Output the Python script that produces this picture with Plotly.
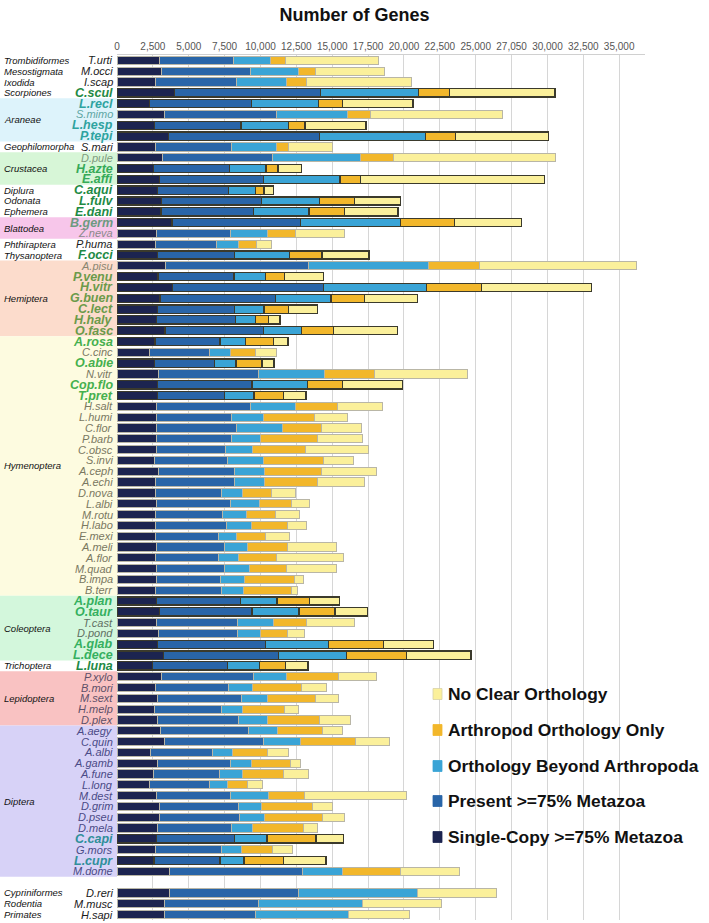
import plotly.graph_objects as go

title_text = "Number of Genes"

species = ["T.urti", "M.occi", "I.scap", "C.scul", "L.recl", "S.mimo", "L.hesp", "P.tepi", "S.mari", "D.pule",
           "H.azte", "E.affi", "C.aqui", "L.fulv", "E.dani", "B.germ", "Z.neva", "P.huma", "F.occi", "A.pisu",
           "P.venu", "H.vitr", "G.buen", "C.lect", "H.haly", "O.fasc", "A.rosa", "C.cinc", "O.abie", "N.vitr",
           "Cop.flo", "T.pret", "H.salt", "L.humi", "C.flor", "P.barb", "C.obsc", "S.invi", "A.ceph", "A.echi",
           "D.nova", "L.albi", "M.rotu", "H.labo", "E.mexi", "A.meli", "A.flor", "M.quad", "B.impa", "B.terr",
           "A.plan", "O.taur", "T.cast", "D.pond", "A.glab", "L.dece", "L.luna", "P.xylo", "B.mori", "M.sext",
           "H.melp", "D.plex", "A.aegy", "C.quin", "A.albi", "A.gamb", "A.fune", "L.long", "M.dest", "D.grim",
           "D.pseu", "D.mela", "C.capi", "G.mors", "L.cupr", "M.dome", "D.reri", "M.musc", "H.sapi"]

bold_species = ["C.scul", "L.recl", "L.hesp", "P.tepi", "H.azte", "E.affi", "C.aqui", "L.fulv", "E.dani",
                "B.germ", "F.occi", "P.venu", "H.vitr", "G.buen", "C.lect", "H.haly", "O.fasc", "A.rosa",
                "O.abie", "Cop.flo", "T.pret", "A.plan", "O.taur", "A.glab", "L.dece", "L.luna", "C.capi", "L.cupr"]

group_names = ["Trombidiformes", "Mesostigmata", "Ixodida", "Scorpiones", "Araneae", "Geophilomorpha",
               "Crustacea", "Diplura", "Odonata", "Ephemera", "Blattodea", "Phthiraptera", "Thysanoptera",
               "Hemiptera", "Hymenoptera", "Coleoptera", "Trichoptera", "Lepidoptera", "Diptera",
               "Cypriniformes", "Rodentia", "Primates"]
group_sizes = [1, 1, 1, 1, 4, 1, 3, 1, 1, 1, 2, 1, 1, 7, 24, 6, 1, 5, 14, 1, 1, 1]

single_copy = [2970, 3070, 2680, 4020, 2260, 3310, 2630, 3600, 2680, 3180,
               2520, 2940, 2840, 3120, 3070, 3830, 2760, 2680, 2840, 3390,
               2860, 3890, 2990, 2840, 2730, 3340, 2650, 2260, 2630, 2890,
               2840, 2810, 2760, 2760, 2780, 2780, 2760, 2630, 2860, 2700,
               2680, 2760, 2650, 2680, 2680, 2760, 2650, 2730, 2730, 2680,
               2760, 2940, 2730, 2890, 2840, 3230, 2470, 3100, 2650, 2840,
               2630, 2840, 3050, 3310, 2360, 2810, 2550, 2280, 2730, 2970,
               2970, 2840, 2760, 2680, 2570, 3680, 3650, 3340, 3280]
present75 = [5120, 6200, 5670, 10160, 7090, 7800, 6010, 10500, 5300, 7670,
             5300, 7250, 4940, 6960, 6430, 8950, 5150, 4230, 5330, 9950,
             5300, 10500, 8040, 5360, 5510, 6850, 4520, 4200, 4150, 6990,
             6570, 4670, 6570, 5230, 5570, 5170, 4780, 5090, 5330, 5490,
             4620, 5170, 4700, 4960, 4390, 4730, 4410, 4750, 4490, 4620,
             5830, 6460, 5700, 5510, 7510, 8010, 5250, 6430, 5120, 5860,
             4670, 5650, 6120, 6910, 4310, 5120, 4600, 4180, 5200, 5510,
             5570, 5120, 5410, 4620, 4600, 9270, 9010, 6540, 6380]
beyond_arthropoda = [2600, 3390, 3470, 6830, 4670, 4960, 3310, 7380, 3150, 6140,
                     2570, 5360, 1860, 4020, 3890, 6960, 2570, 1550, 3830, 8400,
                     2180, 7170, 3890, 2050, 1390, 2650, 1810, 1440, 1520, 4570,
                     3860, 2070, 3100, 2230, 3180, 2070, 1920, 2490, 2070, 2100,
                     1440, 1970, 1650, 1730, 1290, 1630, 1440, 1730, 1650, 1520,
                     2570, 3280, 2470, 1580, 4390, 4750, 2210, 2280, 1650, 1790,
                     1470, 2020, 2020, 2600, 1370, 1470, 1600, 1260, 2650, 1580,
                     1730, 1500, 2280, 1370, 1680, 2780, 8300, 7220, 6460]
arthropod_only = [1050, 1160, 1390, 2180, 1680, 1600, 1160, 2130, 810, 2280,
                  840, 1420, 600, 2440, 2490, 3760, 1940, 1260, 2280, 3520,
                  1310, 3860, 2340, 1710, 920, 2230, 1920, 1730, 1810, 3490,
                  2440, 2050, 2910, 3550, 2730, 3940, 3680, 4150, 3970, 3680,
                  2000, 2230, 2020, 2490, 1970, 2760, 2650, 2630, 3490, 3340,
                  2280, 2520, 2310, 1890, 3830, 4200, 1790, 3620, 3410, 3310,
                  2890, 3600, 3120, 3810, 2440, 2680, 2840, 1370, 2470, 3550,
                  4040, 3550, 3410, 2150, 2730, 4040, None, None, None]
no_clear = [6490, 4830, 7300, 7330, 4940, 9190, 4250, 6460, 3050, 11320,
            1650, 12840, 660, 3230, 3700, 4670, 3440, 1050, 3280, 10950,
            2760, 7640, 3700, 2000, 810, 4460, 1020, 1520, 840, 6460,
            4180, 1580, 3180, 2310, 2760, 3120, 4410, 2130, 3830, 3280,
            1680, 1310, 1730, 1370, 1680, 3410, 4650, 3490, 660, 450,
            2050, 2280, 3310, 1180, 3470, 4490, 1600, 2630, 1760, 1650,
            1000, 2130, 1440, 2340, 1440, 710, 1730, 1020, 7120, 1390,
            1550, 950, 1940, 1440, 2990, 4120, 5490, 5510, 4250]

series_names = ["Single-Copy >=75% Metazoa", "Present >=75% Metazoa", "Orthology Beyond Arthropoda",
                "Arthropod Orthology Only", "No Clear Orthology"]

tick_values = [0, 2500, 5000, 7500, 10000, 12500, 15000, 17500, 20000, 22500, 25000, 27500, 30000, 32500, 35000]
tick_labels = ["0", "2,500", "5,000", "7,500", "10,000", "12,500", "15,000", "17,500", "20,000", "22,500",
               "25,000", "27,050", "30,000", "32,500", "35,000"]

# ---------------- styling ----------------
series_colors = ["#1c2450", "#2965a8", "#3aa4d6", "#f2b72b", "#fbf09b"]
band_colors = {"Araneae": "#ddf3fb", "Crustacea": "#d7f6d7", "Blattodea": "#f7c6ea", "Hemiptera": "#fcdccc",
               "Hymenoptera": "#fdfbe0", "Coleoptera": "#d3f7dc", "Lepidoptera": "#f9c2c2", "Diptera": "#d7d2f7"}
label_colors = {"Araneae": ("#5ea6a4", "#2ea3a0"), "Crustacea": ("#7d9a7d", "#36aa58"),
                "Blattodea": ("#8a8a8a", "#6d9a80"), "Hemiptera": ("#8a8670", "#6b9a4a"),
                "Hymenoptera": ("#7a7860", "#46b04e"), "Coleoptera": ("#5f6e62", "#35b060"),
                "Lepidoptera": ("#5e5068", "#5e5068"), "Diptera": ("#4a4a86", "#2f8f9a")}
default_label = ("#1a1a1a", "#1e8a45")

label_font = "Liberation Sans, Arial, Helvetica, sans-serif"

# row positions: one empty row between the insects and the vertebrates
n_arthropod_rows = sum(group_sizes[:-3])
ypos = [i if i < n_arthropod_rows else i + 1 for i in range(len(species))]
n_rows = len(species) + 1

group_of = []
for g, n in zip(group_names, group_sizes):
    group_of += [g] * n

is_bold = [sp in bold_species for sp in species]
line_cols = ["#3b3a2c" if b else "#b9b6a6" for b in is_bold]
line_wids = [1.3 if b else 1.0 for b in is_bold]

fig = go.Figure()
for name, vals, col in zip(series_names, [single_copy, present75, beyond_arthropoda, arthropod_only, no_clear],
                           series_colors):
    fig.add_trace(go.Bar(
        y=ypos, x=vals, orientation="h", name=name, showlegend=False,
        marker=dict(color=col, line=dict(color=line_cols, width=line_wids)),
        hovertemplate="%{x}<extra>" + name + "</extra>",
    ))

# plot geometry
W, H = 709, 923
ml, mr, mt, mb = 117, 64, 55, 3
pw = W - ml - mr
ph = H - mt - mb


def px_x(x):
    return (x - ml) / pw


def px_y(y):
    return 1 - (y - mt) / ph


shapes = []
annotations = []
start = 0
for g, n in zip(group_names, group_sizes):
    y0 = ypos[start] - 0.5
    y1 = ypos[start + n - 1] + 0.5
    if g in band_colors:
        shapes.append(dict(type="rect", xref="paper", yref="y", x0=px_x(-2), x1=0,
                           y0=y0, y1=y1, fillcolor=band_colors[g], line=dict(width=0), layer="below"))
    annotations.append(dict(xref="paper", yref="y", x=px_x(2), y=(y0 + y1) / 2, xanchor="left",
                            yanchor="middle", text="<i>" + g + "</i>", showarrow=False,
                            font=dict(family=label_font, size=9.5, color="#111111")))
    start += n

for sp, y, g, b in zip(species, ypos, group_of, is_bold):
    reg, bol = label_colors.get(g, default_label)
    if b:
        txt = "<b><i>" + sp + "</i></b>"
        fnt = dict(family=label_font, size=12.5, color=bol)
    else:
        txt = "<i>" + sp + "</i>"
        fnt = dict(family=label_font, size=11, color=reg)
    annotations.append(dict(xref="paper", yref="y", x=px_x(114.5), y=y, xanchor="right", yanchor="middle",
                            text=txt, showarrow=False, font=fnt))

# legend (top to bottom: No Clear ... Single-Copy)
legend_rows_px = [694, 730, 766, 801, 837]
for name, col, yc in zip(series_names[::-1], series_colors[::-1], legend_rows_px):
    shapes.append(dict(type="rect", xref="paper", yref="paper", x0=px_x(433), x1=px_x(442),
                       y0=px_y(yc + 5.5), y1=px_y(yc - 5.5), fillcolor=col,
                       line=dict(color="#d8d2a8" if col == "#fbf09b" else col, width=0.8)))
    annotations.append(dict(xref="paper", yref="paper", x=px_x(446), y=px_y(yc), xanchor="left",
                            yanchor="middle", text="<b>" + name + "</b>", showarrow=False,
                            font=dict(family=label_font, size=17.4, color="#111111")))

fig.update_layout(
    width=W, height=H,
    margin=dict(l=ml, r=mr, t=mt, b=mb, pad=0, autoexpand=False),
    barmode="stack", bargap=0.24,
    paper_bgcolor="white", plot_bgcolor="white",
    title=dict(text="<b>" + title_text + "</b>", x=0.5, xref="container", xanchor="center", y=1 - 15 / H,
               yanchor="middle", yref="container", font=dict(family=label_font, size=18, color="#111111")),
    xaxis=dict(side="top", range=[0, 36800], tickvals=tick_values, ticktext=tick_labels, tickangle=0,
               tickfont=dict(family=label_font, size=10, color="#555555"), ticks="", automargin=False,
               showgrid=True, gridcolor="#d6d6d6", gridwidth=1, zeroline=False,
               showline=True, linecolor="#d0d0d0", linewidth=1, fixedrange=True),
    yaxis=dict(range=[n_rows - 0.5, -0.5], showticklabels=False, showgrid=False, zeroline=False,
               showline=False, ticks="", fixedrange=True, automargin=False),
    shapes=shapes, annotations=annotations,
    showlegend=False,
)

fig.write_html("out.html", config={"displayModeBar": False},
               post_script="document.body.style.margin='0px';")
